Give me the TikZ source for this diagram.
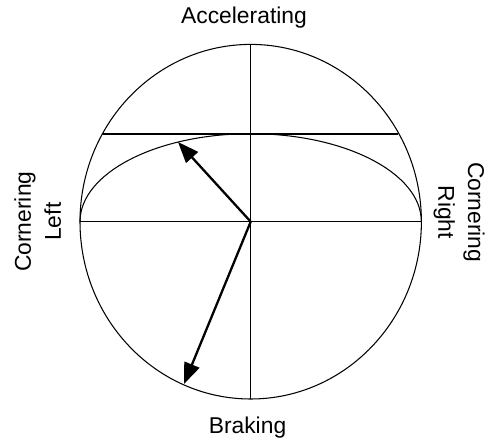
\documentclass[tikz,border=0pt]{standalone}
\usepackage{fontspec}
\setmainfont{Liberation Sans}
\usetikzlibrary{arrows.meta}

\begin{document}
\begin{tikzpicture}[
  thinline/.style={line width=0.6pt},
  thickline/.style={line width=1.3pt},
  vector/.style={line width=1.3pt, -{Triangle[length=0.42cm, width=0.32cm]}},
  caption/.style={font=\fontsize{13}{17}\selectfont, inner sep=0pt, align=center}
]
  \useasboundingbox (-5.014,-4.366) rectangle (4.706,4.434);

  % Friction circle and axes
  \coordinate (O) at (0,0);
  \coordinate (top) at (0,3.546);
  \coordinate (bottom) at (0,-3.546);
  \coordinate (left) at (-3.414,0);
  \coordinate (right) at (3.414,0);
  \draw[thinline] (O) ellipse [x radius=3.414, y radius=3.546];
  \draw[thinline] (top) -- (bottom);
  \draw[thinline] (left) -- (right);

  % Limit line and reduced (upper half) ellipse
  \coordinate (limitL) at (-2.955,1.76);
  \coordinate (limitR) at (2.955,1.76);
  \draw[thickline] (limitL) -- (limitR);
  \draw[thinline] (left) arc [start angle=180, end angle=0, x radius=3.414, y radius=1.76];

  % Force vectors
  \coordinate (tipA) at (-1.454,1.594);
  \coordinate (tipB) at (-1.334,-3.246);
  \draw[vector] (O) -- (tipA);
  \draw[vector] (O) -- (tipB);

  % Labels
  \node[caption, anchor=base] (accel) at (-0.134,3.97) {Accelerating};
  \node[caption, anchor=base] (brake) at (-0.064,-4.226) {Braking};
  \node[caption, rotate=90] (cornL) at (-4.26,0.0) {Cornering\\Left};
  \node[caption, rotate=-90] (cornR) at (4.17,0.19) {Cornering\\Right};
\end{tikzpicture}
\end{document}
